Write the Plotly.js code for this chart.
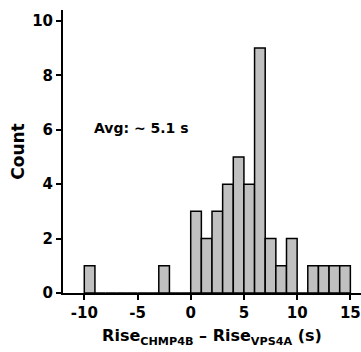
<!DOCTYPE html>
<html>
<head>
<meta charset="utf-8">
<script src="https://cdn.plot.ly/plotly-3.0.1.min.js"></script>
<style>html,body{margin:0;padding:0;background:#fff;}#chart{width:361px;height:352px;}</style>
</head>
<body>
<div id="chart"></div>
<script>
// Histogram bins (left edges, width 1 s) and counts
var binLeft = [-10, -9, -8, -7, -6, -5, -4, -3, -2, -1, 0, 1, 2, 3, 4, 5, 6, 7, 8, 9, 10, 11, 12, 13, 14];
var counts  = [  1,  0,  0,  0,  0,  0,  0,  1,  0,  0, 3, 2, 3, 4, 5, 4, 9, 2, 1, 2,  0,  1,  1,  1,  1];
var xTicks = [-10, -5, 0, 5, 10, 15];
var yTicks = [0, 2, 4, 6, 8, 10];
var avgLabel = "Avg: ~ 5.1 s";

var FONT = "DejaVu Sans, Liberation Sans, Arial, sans-serif";

var trace = {
  type: "bar",
  x: binLeft,
  y: counts,
  width: 1,
  offset: 0,
  marker: {color: "#c0c0c0", line: {color: "#000", width: 1.5}},
  hoverinfo: "x+y"
};

var layout = {
  width: 361, height: 352,
  margin: {l: 63, r: 0, t: 10, b: 59},
  paper_bgcolor: "#fff", plot_bgcolor: "#fff",
  showlegend: false,
  bargap: 0,
  font: {family: FONT, color: "#000"},
  xaxis: {
    range: [-12, 16],
    tickmode: "array", tickvals: xTicks, ticktext: xTicks.map(String),
    ticks: "outside", ticklen: 5, tickwidth: 2, tickcolor: "#000",
    showline: true, linecolor: "#000", linewidth: 2,
    showgrid: false, zeroline: false,
    tickfont: {family: FONT, size: 15, color: "#000", weight: "bold"},
    title: {text: "<b>Rise<sub>CHMP4B</sub> – Rise<sub>VPS4A</sub> (s)</b>", font: {family: FONT, size: 16, color: "#000"}, standoff: 9}
  },
  yaxis: {
    range: [0, 10.4],
    tickmode: "array", tickvals: yTicks, ticktext: yTicks.map(String),
    ticks: "outside", ticklen: 5, tickwidth: 2, tickcolor: "#000",
    showline: true, linecolor: "#000", linewidth: 2,
    showgrid: false, zeroline: false,
    tickfont: {family: FONT, size: 15, color: "#000", weight: "bold"},
    title: {text: "<b>Count</b>", font: {family: FONT, size: 17, color: "#000"}, standoff: 3}
  },
  annotations: [{
    x: -9.3, y: 6.05, xref: "x", yref: "y",
    xanchor: "left", yanchor: "middle",
    text: "<b>" + avgLabel + "</b>", showarrow: false,
    font: {family: FONT, size: 14, color: "#000"}
  }]
};

Plotly.newPlot("chart", [trace], layout, {displayModeBar: false, staticPlot: true});
</script>
</body>
</html>
